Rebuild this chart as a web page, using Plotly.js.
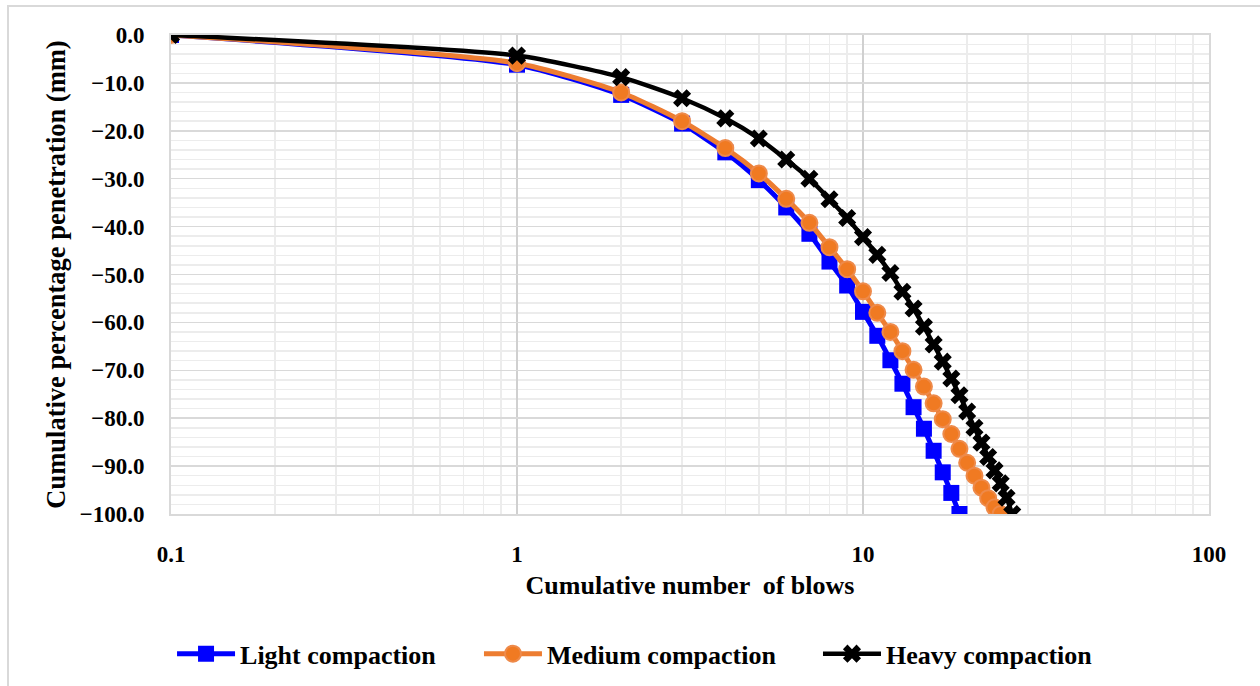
<!DOCTYPE html>
<html>
<head>
<meta charset="utf-8">
<script src="https://cdn.plot.ly/plotly-3.0.1.min.js"></script>
<style>
  html, body { margin: 0; padding: 0; background: #fff; }
  #wrap { position: relative; width: 1260px; height: 686px; overflow: hidden; }
  #chart { width: 1260px; height: 686px; }
  #frame { position: absolute; left: 7px; top: 5px; width: 1300px; height: 700px;
           border-left: 2px solid #d9d9d9; border-top: 2px solid #d9d9d9; pointer-events: none; }
</style>
</head>
<body>
<div id="wrap"><div id="chart"></div><div id="frame"></div></div>
<script>
// Cumulative number of blows
const blowsLight  = [0.1, 1, 2, 3, 4, 5, 6, 7, 8, 9, 10, 11, 12, 13, 14, 15, 16, 17, 18, 19];
const blowsMedium = [0.1, 1, 2, 3, 4, 5, 6, 7, 8, 9, 10, 11, 12, 13, 14, 15, 16, 17, 18, 19, 20, 21, 22, 23, 24, 25];
const blowsHeavy  = [0.1, 1, 2, 3, 4, 5, 6, 7, 8, 9, 10, 11, 12, 13, 14, 15, 16, 17, 18, 19, 20, 21, 22, 23, 24, 25, 26, 27];

// Cumulative penetration (mm)
const penLight  = [0, -6.2, -12.5, -18.5, -24.5, -30.3, -36.0, -41.5, -47.3, -52.3, -57.8, -62.8, -67.9, -72.8, -77.7, -82.2, -86.8, -91.3, -95.6, -100];
const penMedium = [0, -5.9, -12.0, -18.0, -23.6, -28.9, -34.2, -39.2, -44.3, -48.9, -53.5, -58.0, -62.0, -66.0, -69.9, -73.4, -76.9, -80.2, -83.3, -86.4, -89.3, -92.0, -94.5, -96.7, -98.6, -100];
const penHeavy  = [0, -4.3, -8.8, -13.2, -17.4, -21.6, -26.0, -30.0, -34.3, -38.2, -42.2, -45.9, -49.7, -53.6, -57.1, -60.9, -64.6, -68.2, -71.7, -75.2, -78.6, -82.0, -85.1, -88.1, -90.9, -93.6, -96.6, -100];

const seriesNames = ['Light compaction', 'Medium compaction', 'Heavy compaction'];
const xTickVals = [0.1, 1, 10, 100];
const xTickText = ['0.1', '1', '10', '100'];

const serif = '"Liberation Serif"';

const traces = [
  {
    x: blowsLight, y: penLight, name: seriesNames[0], type: 'scatter', mode: 'lines+markers',
    legend: 'legend',
    line: { color: '#0000FF', width: 5, shape: 'spline', smoothing: 0.6 },
    marker: { symbol: 'square', size: 16, color: '#0000FF' }
  },
  {
    x: blowsMedium, y: penMedium, name: seriesNames[1], type: 'scatter', mode: 'lines+markers',
    legend: 'legend2',
    line: { color: '#ED7D31', width: 5, shape: 'spline', smoothing: 0.6 },
    marker: { symbol: 'circle', size: 16, color: '#F07A22', line: { color: '#EE8A4A', width: 2 } }
  },
  {
    x: blowsHeavy, y: penHeavy, name: seriesNames[2], type: 'scatter', mode: 'lines+markers',
    legend: 'legend3',
    line: { color: '#000000', width: 4.5, shape: 'spline', smoothing: 0.6 },
    marker: { symbol: 'x', size: 16, color: '#000000' }
  }
];

const legendBase = {
  orientation: 'h',
  xanchor: 'left',
  yref: 'container',
  y: 0.047, yanchor: 'middle',
  itemwidth: 58,
  font: { family: serif, size: 26, color: '#000', weight: 'bold' },
  bgcolor: 'rgba(0,0,0,0)'
};

const layout = {
  width: 1260, height: 686,
  margin: { l: 171, r: 51, t: 35, b: 172, autoexpand: false },
  paper_bgcolor: '#ffffff', plot_bgcolor: '#ffffff',
  showlegend: true,
  font: { family: serif, color: '#000' },
  xaxis: {
    type: 'log',
    range: [-1, 2],
    tickvals: xTickVals, ticktext: xTickText,
    ticks: '', ticklabelstandoff: 18,
    tickfont: { family: serif, size: 23, color: '#000', weight: 'bold' },
    showgrid: true, gridcolor: '#d0d0d0', gridwidth: 1.5,
    minor: { dtick: 'D1', showgrid: true, gridcolor: '#ececec', gridwidth: 1.5, ticks: '' },
    showline: true, linecolor: '#d9d9d9', linewidth: 2, mirror: true,
    zeroline: false,
    title: { text: 'Cumulative number  of blows', font: { family: serif, size: 26, color: '#000', weight: 'bold' }, standoff: 10 },
    automargin: false
  },
  yaxis: {
    range: [-100, 0],
    dtick: 10, tick0: 0,
    tickformat: '.1f',
    ticks: '', ticklabelstandoff: 20,
    tickfont: { family: serif, size: 23, color: '#000', weight: 'bold' },
    showgrid: true, gridcolor: '#d9d9d9', gridwidth: 1.5,
    minor: { dtick: 2, showgrid: true, gridcolor: '#ececec', gridwidth: 1.5, ticks: '' },
    showline: true, linecolor: '#d9d9d9', linewidth: 2, mirror: true,
    zeroline: false,
    title: { text: 'Cumulative percentage penetration (mm)', font: { family: serif, size: 26.5, color: '#000', weight: 'bold' }, standoff: 6 },
    automargin: false
  },
  legend:  Object.assign({}, legendBase, { x: 0.001 }),
  legend2: Object.assign({}, legendBase, { x: 0.2967 }),
  legend3: Object.assign({}, legendBase, { x: 0.6233 })
};

Plotly.newPlot('chart', traces, layout, { displayModeBar: false, staticPlot: true });
</script>
</body>
</html>
